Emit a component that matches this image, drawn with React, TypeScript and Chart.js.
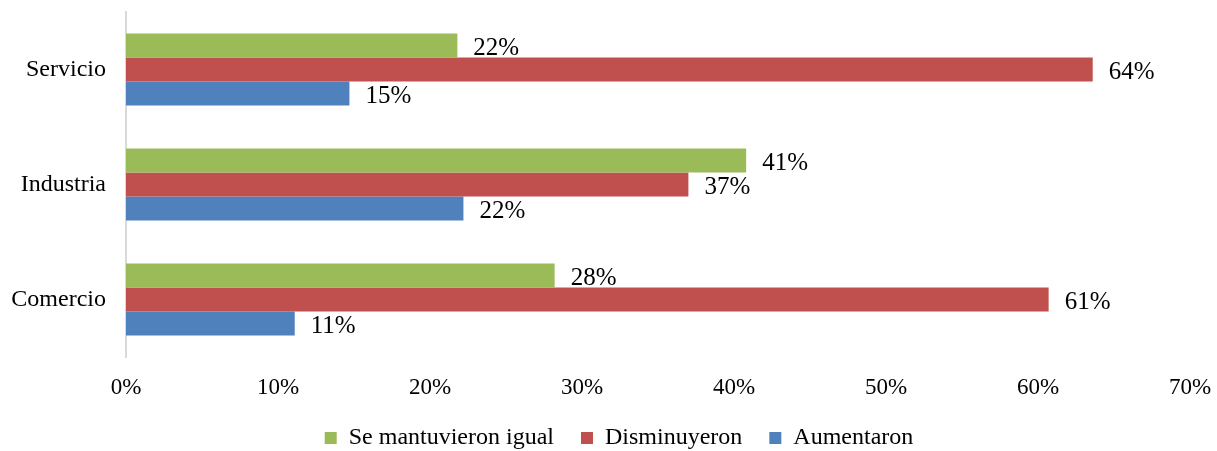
import React, { useEffect, useRef } from "react";
import { Chart, registerables } from "chart.js";

Chart.register(...registerables);

const categories = ["Servicio", "Industria", "Comercio"];
const seMantuvieron = [21.8, 40.8, 28.2];
const disminuyeron = [63.6, 37.0, 60.7];
const aumentaron = [14.7, 22.2, 11.1];
const xTicks = [0, 10, 20, 30, 40, 50, 60, 70];

const FONT = "'Liberation Serif', 'Times New Roman', serif";

const labelPlugin = {
  id: "barLabels",
  afterDatasetsDraw(chart: any) {
    const ctx = chart.ctx;
    ctx.save();
    ctx.font = `25px ${FONT}`;
    ctx.fillStyle = "#000";
    ctx.textAlign = "left";
    ctx.textBaseline = "middle";
    chart.data.datasets.forEach((ds: any, di: number) => {
      const meta = chart.getDatasetMeta(di);
      meta.data.forEach((el: any, i: number) => {
        const v = ds.data[i];
        ctx.fillText(Math.round(v) + "%", el.x + 16, el.y + 3);
      });
    });
    ctx.restore();
  },
};

const legendShift = {
  id: "legendShift",
  afterLayout(chart: any) {
    const lg = chart.legend;
    if (lg) {
      lg.left += 24;
      lg.right += 24;
    }
  },
};

export default function App() {
  const ref = useRef<HTMLCanvasElement>(null);
  useEffect(() => {
    const chart = new Chart(ref.current!, {
      type: "bar",
      data: {
        labels: categories,
        datasets: [
          { label: "Se mantuvieron igual", data: seMantuvieron, backgroundColor: "#9BBB59" },
          { label: "Disminuyeron", data: disminuyeron, backgroundColor: "#C0504D" },
          { label: "Aumentaron", data: aumentaron, backgroundColor: "#4F81BD" },
        ],
      },
      options: {
        indexAxis: "y",
        animation: false,
        responsive: false,
        maintainAspectRatio: false,
        layout: { padding: { top: 12, right: 27, left: 0, bottom: 0 } },
        datasets: { bar: { barPercentage: 1, categoryPercentage: 0.626 } },
        scales: {
          x: {
            min: 0,
            max: 70,
            afterBuildTicks: (s: any) => {
              s.ticks = xTicks.map((v) => ({ value: v }));
            },
            afterFit: (s: any) => {
              s.height = 42;
              s.paddingLeft = 0;
              s.paddingRight = 0;
            },
            grid: { display: false, drawTicks: false },
            border: { display: false },
            ticks: {
              padding: 17,
              color: "#000",
              font: { family: FONT, size: 23 },
              callback: (v: any) => v + "%",
            },
          },
          y: {
            afterFit: (s: any) => {
              s.width = 126;
              s.paddingTop = 0;
              s.paddingBottom = 0;
            },
            grid: { display: false, drawTicks: false },
            border: { display: true, color: "#d9d9d9", width: 2 },
            ticks: {
              padding: 20,
              color: "#000",
              font: { family: FONT, size: 24 },
            },
          },
        },
        plugins: {
          tooltip: { enabled: false },
          legend: {
            position: "bottom",
            maxHeight: 52,
            labels: {
              boxWidth: 12,
              boxHeight: 12,
              padding: 27,
              color: "#000",
              font: { family: FONT, size: 24 },
            },
          },
        },
      },
      plugins: [labelPlugin, legendShift],
    } as any);
    return () => chart.destroy();
  }, []);
  return (
    <div style={{ position: "fixed", left: 0, top: 0, width: 1217, height: 451, background: "#fff" }}>
      <canvas ref={ref} width={1217} height={451} />
    </div>
  );
}
